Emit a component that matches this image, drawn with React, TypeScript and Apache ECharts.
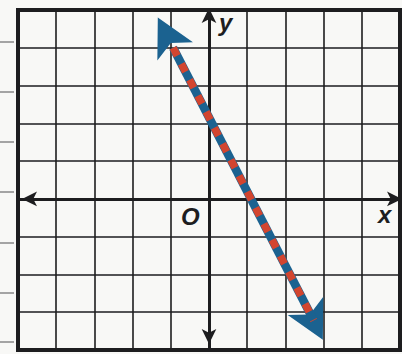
import React, { useEffect, useRef } from "react";
import * as echarts from "echarts";

const xRange = [-5, 5];
const yRange = [-4, 5];
const lineX = [-0.94, 2.74];
const lineY = [4.0, -3.22];
const tipX = [-1.34, 2.98];
const tipY = [4.8, -3.73];
const axisNames = ["x", "y", "O"];

export default function App() {
  const ref = useRef<HTMLDivElement>(null);
  useEffect(() => {
    document.body.style.margin = "0";
    const chart = echarts.init(ref.current!, null, { renderer: "svg" });
    const pts = lineX.map((x, i) => [x, lineY[i]]);
    const tips = tipX.map((x, i) => [x, tipY[i]]);
    const dark = "#1d1d1f";
    const blue = "#1b6290";
    const red = "#d2452f";
    const binder = [42, 92, 142, 192, 243, 293, 342].map((y) => ({
      type: "line",
      shape: { x1: 0, y1: y, x2: 14, y2: y },
      style: { stroke: "#888", lineWidth: 1.5 },
      z: 1,
    }));
    chart.setOption({
      animation: false,
      backgroundColor: "#f8f8f6",
      grid: {
        left: 18,
        right: 2,
        top: 10,
        bottom: 4,
        show: true,
        borderColor: dark,
        borderWidth: 4,
        z: 3,
      },
      xAxis: {
        type: "value",
        min: xRange[0],
        max: xRange[1],
        interval: 1,
        axisLabel: { show: false },
        axisTick: { show: false },
        splitLine: { show: true, lineStyle: { color: dark, width: 1.6 } },
        axisLine: {
          show: true,
          onZero: true,
          symbol: ["arrow", "arrow"],
          symbolSize: [11, 15],
          symbolOffset: [4, 2],
          lineStyle: { color: dark, width: 3 },
        },
      },
      yAxis: {
        type: "value",
        min: yRange[0],
        max: yRange[1],
        interval: 1,
        axisLabel: { show: false },
        axisTick: { show: false },
        splitLine: { show: true, lineStyle: { color: dark, width: 1.6 } },
        axisLine: {
          show: true,
          onZero: true,
          symbol: ["arrow", "arrow"],
          symbolSize: [11, 15],
          symbolOffset: [6, 2],
          lineStyle: { color: dark, width: 3 },
        },
      },
      graphic: [
        ...binder,
        {
          type: "text",
          left: 378,
          top: 202,
          style: { text: axisNames[0], font: "italic bold 24px 'Liberation Sans'", fill: dark },
          z: 10,
        },
        {
          type: "text",
          left: 219,
          top: 10,
          style: { text: axisNames[1], font: "italic bold 24px 'Liberation Sans'", fill: dark },
          z: 10,
        },
        {
          type: "text",
          left: 181,
          top: 204,
          style: { text: axisNames[2], font: "italic bold 24px 'Liberation Sans'", fill: dark },
          z: 10,
        },
      ],
      series: [
        {
          type: "line",
          data: pts,
          symbol: "none",
          lineStyle: { color: blue, width: 8.5 },
          z: 5,
          markLine: {
            silent: true,
            symbol: ["arrow", "arrow"],
            symbolSize: [30, 38],
            label: { show: false },
            lineStyle: { color: blue, width: 0.1, type: "solid" },
            itemStyle: { color: blue },
            data: [[{ coord: tips[0] }, { coord: tips[1] }]],
          },
        },
        {
          type: "line",
          data: pts,
          symbol: "none",
          lineStyle: { color: red, width: 7.5, type: [9, 9], cap: "butt" },
          z: 6,
        },
      ],
    });
    return () => chart.dispose();
  }, []);
  return (
    <div
      ref={ref}
      style={{ position: "fixed", left: 0, top: 0, width: 402, height: 354 }}
    />
  );
}
